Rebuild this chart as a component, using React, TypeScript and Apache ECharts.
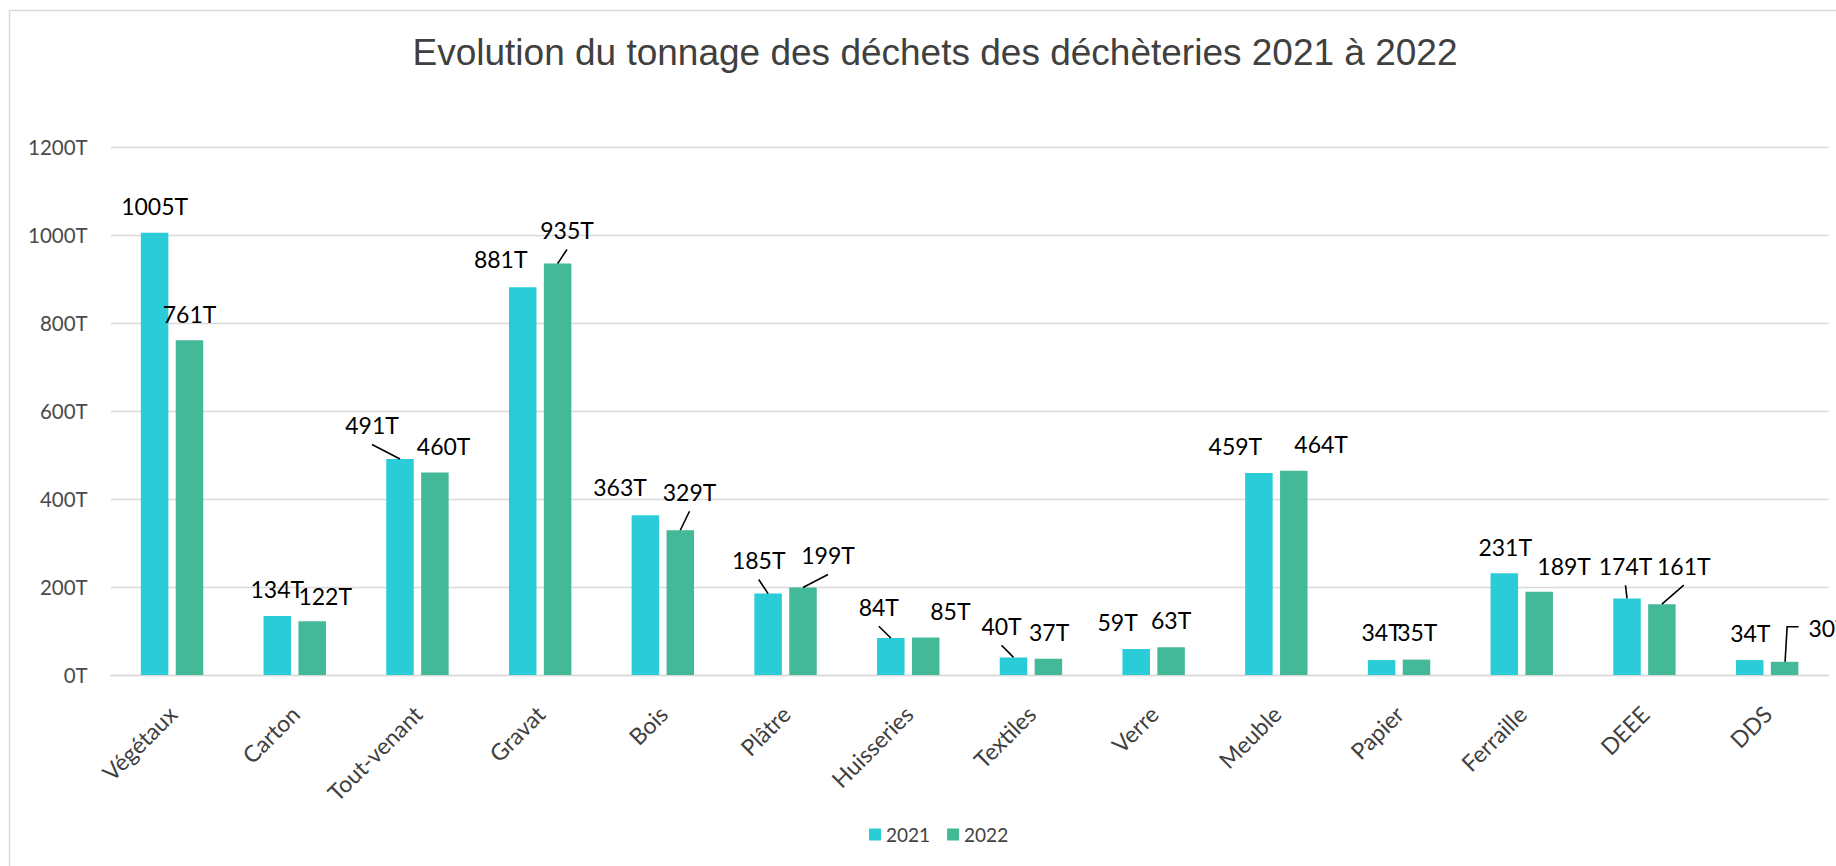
import React, { useEffect, useRef } from "react";
import * as echarts from "echarts";

const chartTitle = "Evolution du tonnage des déchets des déchèteries 2021 à 2022";
const categories = [
  "Végétaux", "Carton", "Tout-venant", "Gravat", "Bois", "Plâtre", "Huisseries",
  "Textiles", "Verre", "Meuble", "Papier", "Ferraille", "DEEE", "DDS",
];
const years = ["2021", "2022"];
const tonnes2021 = [1005, 134, 491, 881, 363, 185, 84, 40, 59, 459, 34, 231, 174, 34];
const tonnes2022 = [761, 122, 460, 935, 329, 199, 85, 37, 63, 464, 35, 189, 161, 30];
const yMin = 0;
const yMax = 1200;
const yStep = 200;
const unitSuffix = "T";

// Styling: label placement in px [dx from bar centre, rise above bar top, leader: 0 none / 1 straight / 2 elbow]
const labelPlace2021 = [
  [0, 26.5, 0], [0, 27, 0], [-28, 34, 1], [-22, 28, 0], [-25.4, 28.6, 0], [-9.4, 33.6, 1], [-12, 31.3, 1],
  [-12, 31.7, 1], [-18.6, 27.3, 0], [-23.5, 27.3, 0], [0, 28, 0], [0.9, 26.7, 0], [-1.5, 32.7, 1], [0.6, 27.3, 0],
];
const labelPlace2022 = [
  [0, 26.6, 0], [13, 25.5, 0], [8.7, 26.3, 0], [9.4, 33.6, 1], [9.2, 38.5, 1], [25, 32.4, 1], [24.7, 27, 0],
  [0.7, 27, 0], [0, 27.3, 0], [27.3, 26.8, 0], [0.8, 27.6, 0], [24.9, 26.1, 0], [21.9, 38.5, 1], [44, 33.5, 2],
];
const colors = ["#29CCD7", "#43B997"];
const BAR_W = 27.5;
const BAR_GAP = 7.4;

export default function App() {
  const ref = useRef<HTMLDivElement>(null);

  useEffect(() => {
    if (!ref.current) return;
    const chart = echarts.init(ref.current, null, { renderer: "svg" });

    const places = [labelPlace2021, labelPlace2022];
    const values = [tonnes2021, tonnes2022];

    const labelLayoutFor = (pl: number[][]) => (params: any) => {
      const r = params.rect;
      const top = Math.min(r.y, r.y + r.height);
      const cx = r.x + r.width / 2;
      const p = pl[params.dataIndex];
      return { x: cx + p[0], y: top - p[1], align: "center", verticalAlign: "middle" };
    };

    const leaderData: number[][] = [];
    places.forEach((pl, s) =>
      pl.forEach((p, i) => {
        if (p[2]) leaderData.push([i, values[s][i], s]);
      })
    );

    const labelFont = "Lato";

    const barSeries = years.map((y, s) => ({
      name: y,
      type: "bar",
      data: values[s],
      barWidth: BAR_W,
      barGap: ((BAR_GAP / BAR_W) * 100).toFixed(1) + "%",
      itemStyle: { color: colors[s] },
      label: {
        show: true,
        position: "top",
        formatter: (p: any) => p.value + unitSuffix,
        fontFamily: labelFont,
        fontSize: 23,
        color: "#000",
      },
      labelLayout: labelLayoutFor(places[s]),
      z: 2,
    }));

    const option: any = {
      animation: false,
      backgroundColor: "#fff",
      title: {
        text: chartTitle,
        left: 935,
        top: 52,
        padding: 0,
        textAlign: "center",
        textVerticalAlign: "middle",
        textStyle: {
          fontFamily: "Liberation Sans",
          fontSize: 37,
          fontWeight: "normal",
          color: "#404040",
        },
      },
      legend: {
        data: years,
        left: 869,
        top: 825,
        padding: 0,
        itemWidth: 12,
        itemHeight: 12,
        itemGap: 17,
        icon: "rect",
        textStyle: { fontFamily: labelFont, fontSize: 19, color: "#404040" },
      },
      grid: { left: 110.7, right: 7.5, top: 147, bottom: 191, containLabel: false },
      xAxis: {
        type: "category",
        data: categories,
        axisLine: { show: true, lineStyle: { color: "#d9d9d9", width: 1.3 } },
        axisTick: { show: false },
        axisLabel: {
          rotate: 45,
          margin: 19,
          verticalAlign: "top",
          padding: [0, 11, 0, 0],
          interval: 0,
          fontFamily: labelFont,
          fontSize: 23,
          color: "#404040",
        },
      },
      yAxis: {
        type: "value",
        min: yMin,
        max: yMax,
        interval: yStep,
        axisLine: { show: false },
        axisTick: { show: false },
        splitLine: { lineStyle: { color: "#d9d9d9", width: 1.3 } },
        axisLabel: {
          formatter: (v: number) => v + unitSuffix,
          margin: 23,
          fontFamily: labelFont,
          fontSize: 20.5,
          color: "#4a4a4a",
        },
      },
      graphic: [
        {
          type: "rect",
          silent: true,
          z: -10,
          shape: { x: 9.5, y: 10.5, width: 1900, height: 1000 },
          style: { fill: "none", stroke: "#d9d9d9", lineWidth: 1.5 },
        },
      ],
      series: [
        ...barSeries,
        {
          name: "leaders",
          type: "custom",
          silent: true,
          z: 5,
          encode: { x: 0, y: 1 },
          data: leaderData,
          renderItem: (params: any, api: any) => {
            const cat = api.value(0);
            const val = api.value(1);
            const s = api.value(2);
            const pt = api.coord([cat, val]);
            const off = (BAR_W + BAR_GAP) / 2;
            const cx = pt[0] + (s === 0 ? -off : off);
            const top = pt[1];
            const p = places[s][cat];
            const lx = cx + p[0];
            const ly = top - p[1];
            const points =
              p[2] === 2
                ? [[cx + 0.5, top], [cx + 2.5, ly - 1.5], [lx - 30, ly - 1.5]]
                : [[lx, ly + 19.5], [cx, top]];
            return {
              type: "polyline",
              shape: { points },
              style: { stroke: "#000", lineWidth: 1.6, fill: "none" },
            };
          },
        },
      ],
    };

    chart.setOption(option);
    return () => chart.dispose();
  }, []);

  return (
    <div
      ref={ref}
      style={{ position: "fixed", left: 0, top: 0, width: 1836, height: 866, background: "#fff" }}
    />
  );
}
